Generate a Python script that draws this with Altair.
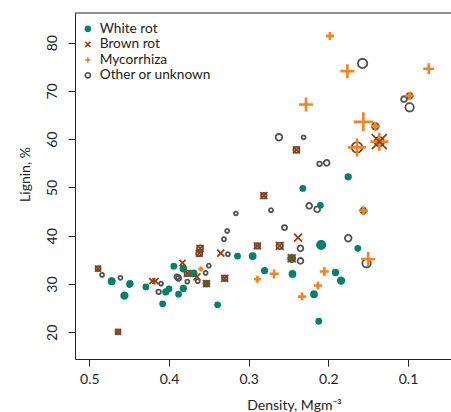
import altair as alt
import pandas as pd

groups = ["White rot", "Brown rot", "Mycorrhiza", "Other or unknown"]

# Other or unknown (open circles)
oth_d = [0.484, 0.461, 0.450, 0.472, 0.413, 0.410, 0.390, 0.388, 0.377, 0.364, 0.354, 0.350,
         0.331, 0.327, 0.326, 0.316, 0.272, 0.262, 0.231, 0.255, 0.235, 0.235, 0.224, 0.214,
         0.211, 0.202, 0.175, 0.157, 0.105, 0.098, 0.152, 0.164, 0.141, 0.136, 0.098, 0.156,
         0.209, 0.382, 0.295,
         0.489, 0.464, 0.377, 0.361, 0.362, 0.330, 0.289, 0.281, 0.261, 0.240, 0.246]
oth_l = [31.9, 31.3, 29.8, 30.6, 28.4, 30.1, 31.5, 31.2, 30.5, 30.6, 32.3, 33.8,
         39.3, 41.0, 36.2, 44.6, 45.3, 60.4, 60.4, 41.7, 37.4, 34.8, 46.2, 45.5,
         54.9, 55.1, 39.5, 75.7, 68.3, 66.6, 34.3, 58.3, 62.7, 59.5, 69.0, 45.2,
         38.1, 33.2, 35.8,
         33.2, 20.1, 32.2, 37.4, 36.4, 31.2, 37.9, 48.3, 37.9, 57.8, 35.3]
oth_w = [4, 4, 4, 5.5, 4.5, 4, 5, 5, 4, 4, 4, 4,
         4, 4, 4, 3.8, 4, 6.6, 4, 5, 5.8, 5.8, 5.8, 5.8,
         4.6, 5.8, 6.6, 9.3, 5.8, 8.4, 8.4, 10.5, 6.6, 9.3, 5.8, 5.8,
         7.5, 5, 5,
         5, 5, 5.5, 6, 6, 5.5, 5.5, 5.5, 6.5, 6, 6.5]

# White rot (filled dots)
wr_d = [0.472, 0.456, 0.449, 0.429, 0.408, 0.404, 0.400, 0.394, 0.388, 0.382, 0.382, 0.369,
        0.353, 0.339, 0.314, 0.295, 0.280, 0.246, 0.245, 0.232, 0.218, 0.210, 0.209, 0.212,
        0.191, 0.184, 0.175, 0.163]
wr_l = [30.6, 27.6, 30.1, 29.4, 25.9, 28.4, 29.0, 33.7, 27.9, 29.1, 33.2, 32.2,
        30.1, 25.7, 35.8, 35.8, 32.8, 35.3, 32.1, 49.8, 27.9, 46.3, 38.1, 22.3,
        32.4, 30.7, 52.2, 37.4]
wr_w = [6, 6.5, 5.5, 5, 5, 5.5, 5, 5, 5, 5.5, 6, 6,
        6, 5, 5, 6, 5.5, 7, 6, 5, 6, 5, 8, 5,
        5.5, 6.5, 5.5, 5]

# Mycorrhiza (plus signs)
my_d = [0.198, 0.176, 0.074, 0.228, 0.156, 0.141, 0.164, 0.136, 0.098, 0.156, 0.150,
        0.289, 0.268, 0.233, 0.213, 0.205, 0.360]
my_l = [81.4, 74.1, 74.6, 67.2, 63.6, 62.7, 58.3, 59.5, 69.0, 45.2, 35.2,
        31.0, 32.1, 27.4, 29.7, 32.6, 33.1]
my_w = [8, 14, 11, 14, 19, 9, 18, 18, 8, 9, 14,
        7, 9, 8, 8, 9, 5]

# Brown rot (crosses)
br_d = [0.489, 0.464, 0.421, 0.417, 0.383, 0.377, 0.365, 0.361, 0.362, 0.335, 0.330,
        0.289, 0.281, 0.261, 0.240, 0.238, 0.246, 0.353, 0.136]
br_l = [33.2, 20.1, 30.6, 30.6, 34.4, 32.2, 31.5, 37.4, 36.4, 36.4, 31.2,
        37.9, 48.3, 37.9, 57.8, 39.6, 35.3, 30.1, 59.5]
br_w = [6, 6, 6, 6, 6, 7, 7, 7, 7, 7, 7,
        7, 7, 8, 7, 8, 8, 7, 15]

rows = []
for g, ds, ls, ws in [("Other or unknown", oth_d, oth_l, oth_w),
                      ("White rot", wr_d, wr_l, wr_w),
                      ("Mycorrhiza", my_d, my_l, my_w),
                      ("Brown rot", br_d, br_l, br_w)]:
    for d, l, w in zip(ds, ls, ws):
        rows.append({"density": d, "lignin": l, "w": w, "group": g})
df = pd.DataFrame(rows)

colors = ["#00836a", "#9b3c0c", "#f5821f", "#505050"]
fills = ["#00836a", "transparent", "transparent", "transparent"]
shapes = ["circle", "M-1,-1L1,1M-1,1L1,-1", "M-1,0L1,0M0,-1L0,1", "circle"]

W, H = 376, 346
FONT = "Lato"

points = alt.Chart(df).mark_point(opacity=1, fillOpacity=1).encode(
    x=alt.X("density:Q",
            scale=alt.Scale(domain=[0.046, 0.518], reverse=True, nice=False, zero=False),
            axis=alt.Axis(values=[0.1, 0.2, 0.3, 0.4, 0.5], format=".1f",
                          title="Density, Mgm⁻³", titleX=219, titleY=39,
                          titleBaseline="top", titleAlign="center",
                          labelPadding=6)),
    y=alt.Y("lignin:Q",
            scale=alt.Scale(domain=[14.48, 86.14], nice=False, zero=False),
            axis=alt.Axis(values=[20, 30, 40, 50, 60, 70, 80], title="Lignin, %",
                          labelAngle=270, labelAlign="center", labelBaseline="alphabetic",
                          labelPadding=12, titleX=-46, titleY=161, titleAngle=270,
                          titleAlign="center", titleBaseline="alphabetic")),
    shape=alt.Shape("group:N", scale=alt.Scale(domain=groups, range=shapes), title=None),
    stroke=alt.Stroke("group:N", scale=alt.Scale(domain=groups, range=colors), title=None),
    fill=alt.Fill("group:N", scale=alt.Scale(domain=groups, range=fills), title=None),
    strokeWidth=alt.condition("datum.group == 'Mycorrhiza'", alt.value(2.6),
                              alt.value(1.8)),
    size=alt.Size("w:Q", scale=alt.Scale(type="pow", exponent=2, domain=[0, 10], range=[0, 100]),
                  legend=None),
)

top_rule = alt.Chart(alt.Data(values=[{}])).mark_rule(color="#222", strokeWidth=1).encode(
    x=alt.value(0), x2=alt.value(W), y=alt.value(0)
)

chart = alt.layer(points, top_rule).properties(
    width=W, height=H,
    autosize=alt.AutoSizeParams(type="none"),
    padding={"left": 75, "top": 13, "right": 0, "bottom": 53},
).configure_view(stroke=None).configure_axis(
    grid=False, domainColor="#222", domainWidth=1, tickColor="#222", tickWidth=1, tickSize=7,
    labelFont=FONT, labelFontSize=14, labelColor="#222", titleFont=FONT, titleFontSize=14,
    titleColor="#222", titleFontWeight="normal",
).configure_legend(
    orient="none", legendX=6, legendY=9, padding=0, rowPadding=0.5,
    labelFont=FONT, labelFontSize=13.7, labelColor="#222", labelOffset=5,
    symbolSize=26, symbolStrokeWidth=1.6,
)

chart.save("out.html", embed_options={"renderer": "svg", "actions": False})
